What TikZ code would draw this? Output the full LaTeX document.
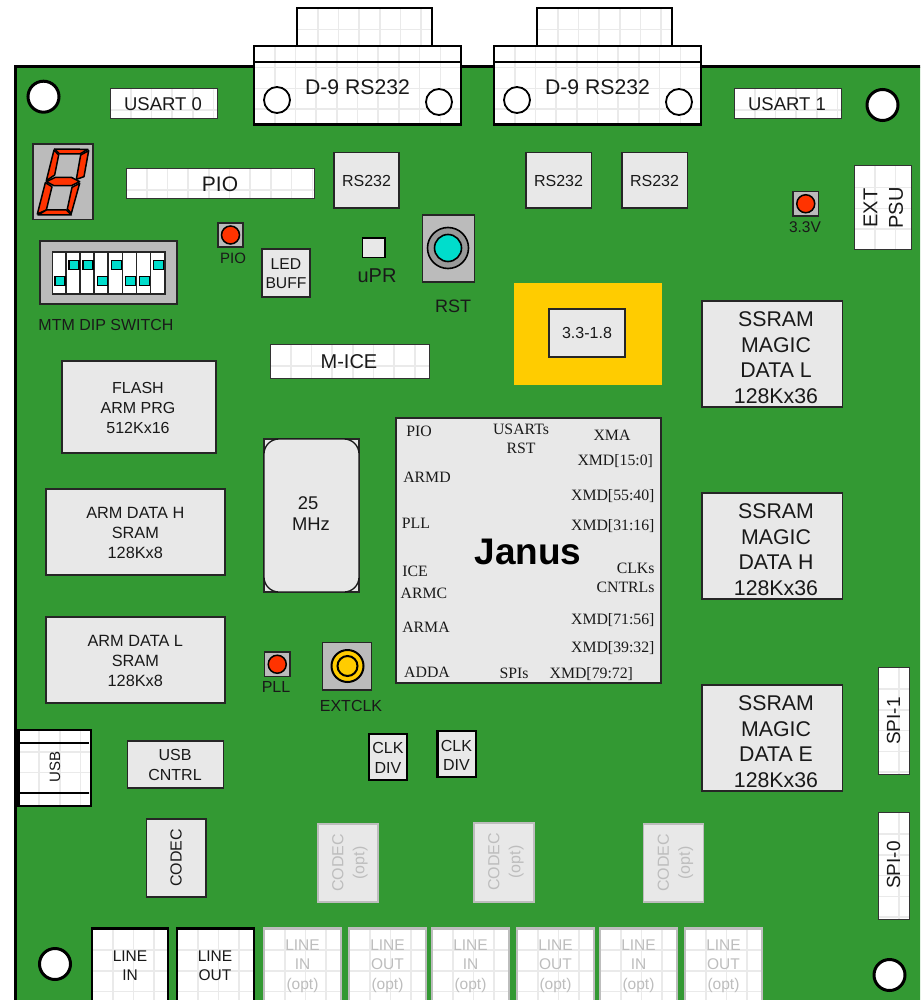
\documentclass[tikz,border=0pt]{standalone}
\usepackage{fontspec}
\setmainfont{Liberation Sans}
\newfontfamily\tmsfont{Liberation Serif}
\definecolor{pcb}{HTML}{339933}
\definecolor{chipgrey}{HTML}{E8E8E8}
\definecolor{midgrey}{HTML}{BBBBBB}
\definecolor{ringgrey}{HTML}{999999}
\definecolor{gridgrey}{HTML}{EAEAEA}
\definecolor{fadegrey}{HTML}{BDBDBD}
\definecolor{ledred}{HTML}{FF3300}
\definecolor{teal}{HTML}{00DDCC}
\definecolor{amber}{HTML}{FFCC00}
\tikzset{
  rectn/.style={rectangle,inner sep=0pt,outer sep=0pt},
  chip/.style={rectn,fill=chipgrey,draw=black!85,line width=1.1pt},
  chipthick/.style={rectn,fill=chipgrey,draw=black,line width=2.2pt},
  greybase/.style={rectn,fill=midgrey,draw=black!85,line width=1.6pt},
  fadechip/.style={rectn,fill=chipgrey,draw=fadegrey,line width=1.8pt},
  thinedge/.style={draw=black!80,line width=1pt},
  thickedge/.style={draw=black,line width=2.3pt},
  fadeedge/.style={draw=fadegrey,line width=2.2pt},
  gridline/.style={draw=gridgrey,line width=1.6pt},
  lbl/.style={inner sep=0pt,outer sep=0pt,align=center,text=black!90},
  faded/.style={lbl,text=fadegrey},
  ser/.style={inner sep=0pt,outer sep=0pt,text=black!90,font=\tmsfont\fontsize{15.8}{18}\selectfont},
  hole/.style={circle,inner sep=0pt,fill=white,draw=black,line width=3pt},
  screw/.style={circle,inner sep=0pt,fill=white,draw=black,line width=1.8pt},
  lamp/.style={circle,inner sep=0pt,fill=ledred,draw=black,line width=1.5pt},
  seg/.style={fill=ledred,draw=black,line width=1.5pt,line join=round},
  teal sq/.style={fill=teal,draw=black,line width=1.3pt},
}
\newcommand{\fs}[1]{\fontsize{#1}{#1}\selectfont}
\newcommand{\fsl}[2]{\fontsize{#1}{#2}\selectfont}
\newcommand{\pbox}[6]{%
  \node[#6,minimum width={(#4)-(#2)},minimum height={(#5)-(#3)}] (#1) at ({((#2)+(#4))/2},{((#3)+(#5))/2}) {};}
\newcommand{\gbox}[6]{%
  \node[rectn,fill=white,minimum width={(#4)-(#2)},minimum height={(#5)-(#3)}] (#1) at ({((#2)+(#4))/2},{((#3)+(#5))/2}) {};
  \begin{scope}
    \clip (#2,#3) rectangle (#4,#5);
    \foreach \k in {1,...,11} {
      \draw[gridline] ({#2+20.7*\k},#3) -- ({#2+20.7*\k},#5);
      \draw[gridline] (#2,{#3+1+20.7*\k}) -- (#4,{#3+1+20.7*\k});
    }
  \end{scope}
  \draw[#6] (#1.south west) rectangle (#1.north east);}
\begin{document}
\begin{tikzpicture}[x=1pt,y=-1pt]
\useasboundingbox (0,0) rectangle (920,1000);
\clip (0,0) rectangle (920,1000);
% board
\draw[fill=pcb,draw=black,line width=3pt] (15.5,67) rectangle (930,1010);
% mounting holes
\node[hole,minimum size=31pt] (h1) at (43.5,96.7) {};
\node[hole,minimum size=31pt] (h2) at (882.5,105) {};
\node[hole,minimum size=31pt] (h3) at (55,964) {};
\node[hole,minimum size=31pt] (h4) at (889.5,975) {};
% D-9 connectors
\gbox{d1top}{297}{8}{432}{46}{thickedge}
\gbox{d1body}{254}{46}{461}{124.5}{thickedge}
\draw[black,line width=2pt] (d1body.north west |- 0,62) -- (d1body.north east |- 0,62);
\node[screw,minimum size=26pt] (d1a) at (277,100) {};
\node[screw,minimum size=26pt] (d1b) at (439,102) {};
\node[lbl,font=\fs{21.2}] (d1t) at (357.5,87) {D-9 RS232};
\gbox{d2top}{537}{8}{672}{46}{thickedge}
\gbox{d2body}{494}{46}{701}{124.5}{thickedge}
\draw[black,line width=2pt] (d2body.north west |- 0,62) -- (d2body.north east |- 0,62);
\node[screw,minimum size=26pt] (d2a) at (517,100) {};
\node[screw,minimum size=26pt] (d2b) at (679,102) {};
\node[lbl,font=\fs{21.2}] (d2t) at (597.5,87) {D-9 RS232};
% USART headers
\gbox{us0}{110}{88.5}{217}{119}{thinedge}
\node[lbl,font=\fs{18.5}] (us0t) at (163,104.5) {USART 0};
\gbox{us1}{734}{88.5}{841}{119}{thinedge}
\node[lbl,font=\fs{18.5}] (us1t) at (787,104.5) {USART 1};
% seven segment
\pbox{sevenbase}{33}{144}{93}{219.5}{greybase}
\begin{scope}[shift={(28,140)},xscale=1/3,yscale=1/3]
  \draw[seg] (80,27) -- (180,28) -- (155,42) -- (95,42) -- cycle;
  \draw[seg] (78,30) -- (92,45) -- (80,105) -- (55,122) -- cycle;
  \draw[seg] (182,32) -- (168,110) -- (145,118) -- (158,45) -- cycle;
  \draw[seg] (55,125) -- (82,112) -- (130,112) -- (155,125) -- (130,137) -- (78,137) -- cycle;
  \draw[seg] (52,128) -- (72,140) -- (55,210) -- (28,222) -- cycle;
  \draw[seg] (155,130) -- (130,220) -- (118,207) -- (132,142) -- cycle;
  \draw[seg] (30,225) -- (55,210) -- (115,210) -- (130,225) -- cycle;
\end{scope}
% PIO header
\gbox{pio}{126}{168.5}{314}{199}{thinedge}
\node[lbl,font=\fs{21}] (piot) at (220,184) {PIO};
% PIO led
\pbox{pioled}{218}{223}{243}{247}{greybase}
\node[lamp,minimum size=18pt] (piolamp) at (pioled.center) {};
\node[lbl,font=\fs{15}] (piolt) at (233,258) {PIO};
% LED BUFF
\pbox{ledbuff}{262}{249}{310}{297}{chip}
\node[lbl,font=\fsl{15.7}{19.5}] (ledbufft) at (286,273.5) {LED\\BUFF};
% DIP switch
\pbox{dipbase}{40}{241}{177}{304}{greybase}
\pbox{dipframe}{52}{251}{165.5}{294}{rectn,fill=black!85,draw=black!85,line width=1pt}
\foreach \i/\yy in {0/276.5,1/260.5,2/260.5,3/276.5,4/260.5,5/276.5,6/276.5,7/260.5} {
  \fill[white] ({53+14.05*\i},252.5) rectangle ({65.3+14.05*\i},292.5);
  \draw[teal sq] ({55+14.05*\i},\yy) rectangle ({65+14.05*\i},\yy+9);
}
\node[lbl,font=\fs{16}] (dipt) at (106,325) {MTM DIP SWITCH};
% RS232 chips
\pbox{rs1}{334}{152.5}{399}{208}{chip}
\node[lbl,font=\fs{16}] (rs1t) at (366.5,180.5) {RS232};
\pbox{rs2}{526}{152.5}{591.5}{208}{chip}
\node[lbl,font=\fs{16}] (rs2t) at (558.5,180.5) {RS232};
\pbox{rs3}{622}{152.5}{687.5}{208}{chip}
\node[lbl,font=\fs{16}] (rs3t) at (654.5,180.5) {RS232};
% uPR
\pbox{upr}{362.5}{238}{385}{257.5}{rectn,fill=chipgrey,draw=black,line width=1.8pt}
\node[lbl,font=\fs{20}] (uprt) at (377,275.7) {uPR};
% RST
\pbox{rstbase}{422.5}{215}{474.5}{282}{greybase}
\node[circle,inner sep=0pt,fill=ringgrey,draw=black,line width=1.6pt,minimum size=41pt] (rstring) at (448,248) {};
\node[circle,inner sep=0pt,fill=teal,draw=black,line width=1.6pt,minimum size=27pt] (rstcap) at (448,248) {};
\node[lbl,font=\fs{18}] (rstt) at (453,306.5) {RST};
% regulator
\pbox{amberpad}{514}{283}{662}{385}{rectn,fill=amber}
\pbox{reg}{549}{309}{625}{357}{chip}
\node[lbl,font=\fs{16}] (regt) at (587,333) {3.3-1.8};
% 3.3V
\pbox{vled}{793}{191.5}{818.5}{216}{greybase}
\node[lamp,minimum size=18pt] (vlamp) at (vled.center) {};
\node[lbl,font=\fs{15.5}] (vt) at (805,227) {3.3V};
% EXT PSU
\gbox{psu}{854}{166}{911}{249.5}{thinedge}
\node[lbl,font=\fsl{20}{25.5},rotate=90] (psut) at (883.3,208) {EXT\\PSU};
% SSRAMs
\pbox{ssl}{702}{301}{842.5}{407}{chip}
\node[lbl,font=\fsl{21.3}{25.7}] (sslt) at (776,357.7) {SSRAM\\MAGIC\\DATA L\\128Kx36};
\pbox{ssh}{702}{493}{842.5}{599}{chip}
\node[lbl,font=\fsl{21.3}{25.7}] (ssht) at (776,549.7) {SSRAM\\MAGIC\\DATA H\\128Kx36};
\pbox{sse}{702}{685}{842.5}{791}{chip}
\node[lbl,font=\fsl{21.3}{25.7}] (sset) at (776,741.7) {SSRAM\\MAGIC\\DATA E\\128Kx36};
% M-ICE
\gbox{mice}{270}{344.5}{429}{378}{thinedge}
\node[lbl,font=\fs{20}] (micet) at (349,362) {M-ICE};
% memories
\pbox{flash}{62}{361}{216}{453}{chip}
\node[lbl,font=\fsl{16}{19.8}] (flasht) at (138,407.8) {FLASH\\ARM PRG\\512Kx16};
\pbox{armh}{46}{489}{225}{575}{chip}
\node[lbl,font=\fsl{16.3}{19.8}] (armht) at (135.3,532.8) {ARM DATA H\\SRAM\\128Kx8};
\pbox{arml}{46}{617}{225}{703}{chip}
\node[lbl,font=\fsl{16.3}{19.8}] (armlt) at (135.3,660.8) {ARM DATA L\\SRAM\\128Kx8};
% crystal
\pbox{xtalbase}{264}{439}{359}{592}{chip}
\node[rectn,fill=chipgrey,draw=black!90,line width=1.3pt,rounded corners=15pt,minimum width=95pt,minimum height=153pt] (xtal) at (xtalbase.center) {};
\node[lbl,font=\fs{18.4}] (xtal25) at (308,503) {25};
\node[lbl,font=\fs{18.4}] (xtalm) at (311,524.5) {MHz};
% Janus
\pbox{janus}{396}{418}{661}{683}{chip}
\node[inner sep=0pt,font=\bfseries\fs{37},text=black] (janust) at (528,551.5) {Janus};
\node[ser] (j1) at (419,431) {PIO};
\node[ser] (j2) at (521,429) {USARTs};
\node[ser] (j3) at (521,448) {RST};
\node[ser] (j4) at (612,435) {XMA};
\node[ser,anchor=east] (j5) at (653,461) {XMD[15:0]};
\node[ser] (j6) at (427,477) {ARMD};
\node[ser,anchor=east] (j7) at (654.5,496) {XMD[55:40]};
\node[ser] (j8) at (416,523) {PLL};
\node[ser,anchor=east] (j9) at (654.5,526) {XMD[31:16]};
\node[ser] (j10) at (415,571) {ICE};
\node[ser] (j11) at (424,593) {ARMC};
\node[ser,anchor=east] (j12) at (654.5,568) {CLKs};
\node[ser,anchor=east] (j13) at (654.5,587) {CNTRLs};
\node[ser] (j14) at (426,627) {ARMA};
\node[ser,anchor=east] (j15) at (654.5,620) {XMD[71:56]};
\node[ser,anchor=east] (j16) at (654.5,648) {XMD[39:32]};
\node[ser] (j17) at (427,672) {ADDA};
\node[ser] (j18) at (514,673) {SPIs};
\node[ser,anchor=east] (j19) at (633,674) {XMD[79:72]};
% PLL led
\pbox{pllled}{264.5}{652}{290}{676.5}{greybase}
\node[lamp,minimum size=18pt] (plllamp) at (pllled.center) {};
\node[lbl,font=\fs{16}] (pllt) at (276,686.5) {PLL};
% EXTCLK
\pbox{clkbase}{322.5}{642.5}{371.5}{690}{greybase}
\node[circle,inner sep=0pt,fill=amber,draw=black,line width=2pt,minimum size=32pt] (clkout) at (347.5,666) {};
\node[circle,inner sep=0pt,fill=amber,draw=black,line width=2pt,minimum size=20pt] (clkin) at (347.5,666) {};
\node[lbl,font=\fs{16}] (clkt) at (351,705.5) {EXTCLK};
% CLK DIV
\pbox{cd1}{369}{734}{407}{780}{chipthick}
\node[lbl,font=\fsl{16}{19.5}] (cd1t) at (388,758) {CLK\\DIV};
\pbox{cd2}{437.5}{731}{476}{777}{chipthick}
\node[lbl,font=\fsl{16}{19.5}] (cd2t) at (456.5,755.3) {CLK\\DIV};
% USB
\gbox{usb}{18.5}{730}{91}{806}{thickedge}
\coordinate (usba) at (19,743); \coordinate (usbb) at (89,743);
\coordinate (usbc) at (19,793); \coordinate (usbd) at (89,793);
\draw[black,line width=2pt] (usba) -- (usbb);
\draw[black,line width=2pt] (usbc) -- (usbd);
\node[lbl,font=\fs{15},rotate=90] (usbt) at (55,767) {USB};
\pbox{usbc1}{127.5}{741}{223.5}{788}{chip}
\node[lbl,font=\fsl{16}{19.5}] (usbc1t) at (175,765) {USB\\CNTRL};
% CODECs
\pbox{codec}{146.5}{819}{206}{897}{chip}
\node[lbl,font=\fs{16},rotate=90] (codect) at (176,858) {CODEC};
\pbox{co1}{318}{824}{378}{902}{fadechip}
\node[faded,font=\fsl{16}{21},rotate=90] (co1t) at (350,863) {CODEC\\(opt)};
\pbox{co2}{474}{823}{534}{902}{fadechip}
\node[faded,font=\fsl{16}{21},rotate=90] (co2t) at (506,862) {CODEC\\(opt)};
\pbox{co3}{643.5}{824}{703.5}{902}{fadechip}
\node[faded,font=\fsl{16}{21},rotate=90] (co3t) at (675.5,863) {CODEC\\(opt)};
% Audio jacks
\gbox{li}{92}{928.5}{168}{1010}{thickedge}
\node[lbl,font=\fsl{15.5}{19}] (lit) at (130,965.3) {LINE\\IN};
\gbox{lo}{177}{928.5}{254}{1010}{thickedge}
\node[lbl,font=\fsl{15.5}{19}] (lot) at (215,965.3) {LINE\\OUT};
\foreach \nm/\xa/\xb/\lab in {a/264/341/IN,b/349/426/OUT,c/432/509/IN,d/517/594/OUT,e/600/677/IN,f/685/762/OUT} {
  \gbox{j\nm}{\xa}{928.5}{\xb}{1010}{fadeedge}
  \node[faded,font=\fsl{15.5}{19.5}] (j\nm t) at ({(\xa+\xb)/2},966) {LINE\\\lab\\(opt)};
}
% SPI headers
\gbox{spia}{878.5}{667.5}{909}{774}{thinedge}
\node[lbl,font=\fs{19},rotate=90] (spiat) at (893.5,721) {SPI-1};
\gbox{spib}{878.5}{812.5}{909}{919}{thinedge}
\node[lbl,font=\fs{19},rotate=90] (spibt) at (893.5,865) {SPI-0};
\end{tikzpicture}
\end{document}
